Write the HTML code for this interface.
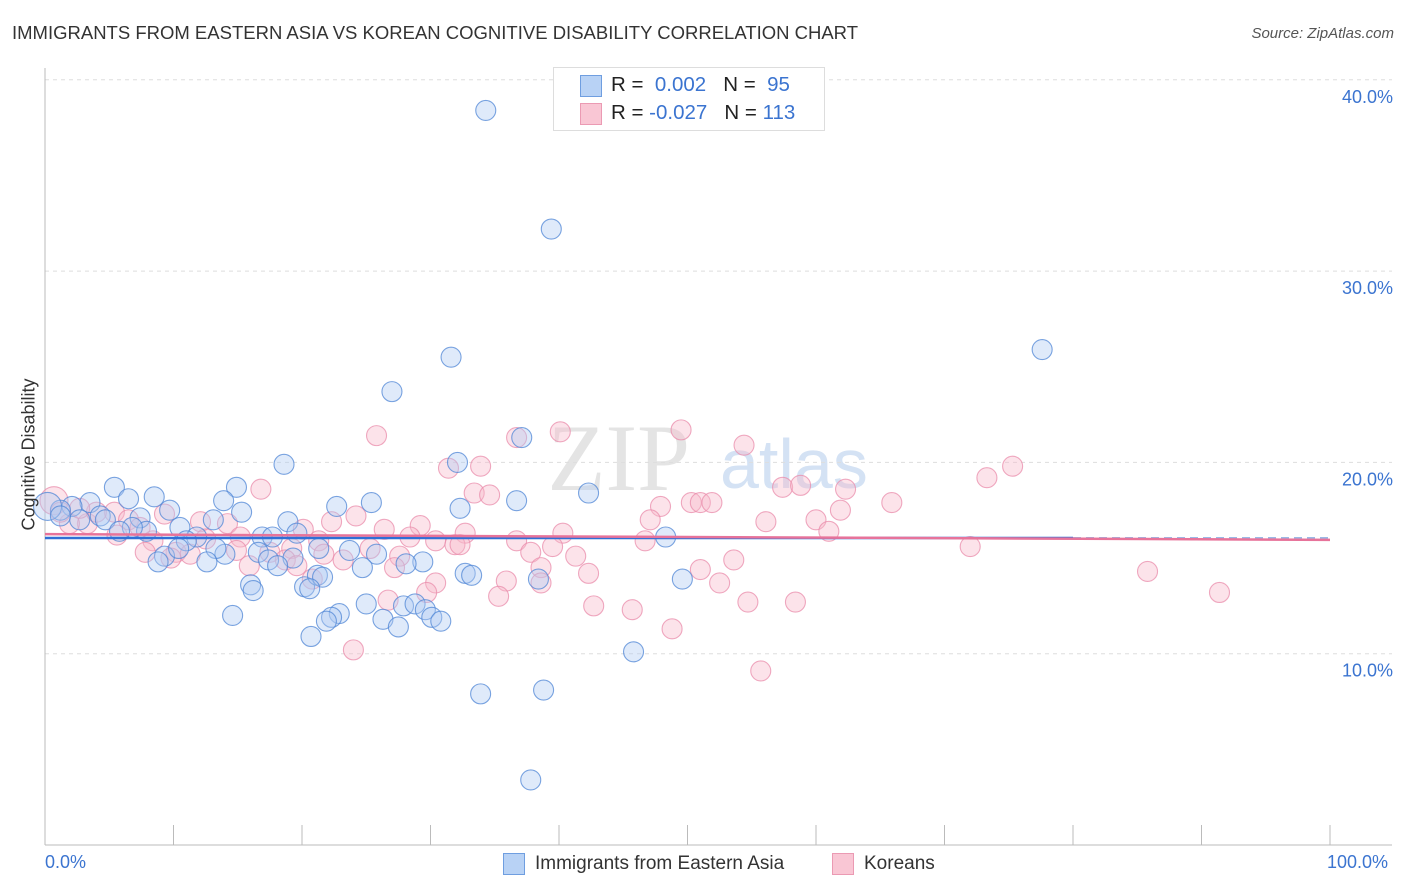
<!DOCTYPE html>
<html><head><meta charset="utf-8"><style>
body{margin:0;background:#fff;font-family:"Liberation Sans",sans-serif;}
#wrap{position:relative;width:1406px;height:892px;overflow:hidden;}
.t{position:absolute;white-space:nowrap;}
</style></head><body>
<div id="wrap">
<div class="t" style="left:12px;top:22px;font-size:18.5px;color:#333;">IMMIGRANTS FROM EASTERN ASIA VS KOREAN COGNITIVE DISABILITY CORRELATION CHART</div>
<div class="t" style="right:12px;top:25px;font-size:15px;color:#555;font-style:italic;">Source: ZipAtlas.com</div>
<svg id="plot" width="1406" height="892" style="position:absolute;left:0;top:0">
<text x="690" y="490" font-size="95" font-family="Liberation Serif" fill="#e4e4e4" text-anchor="end">ZIP</text>
<text x="720" y="488" font-size="70" font-family="Liberation Sans" fill="#d4e2f4">atlas</text>
</svg>
<div style="position:absolute;left:553px;top:67px;width:270px;height:62px;border:1px solid #ddd;background:#fff;"></div>
<div style="position:absolute;left:580px;top:75px;width:20px;height:20px;background:#b8d2f5;border:1px solid #6f9ee0;"></div>
<div style="position:absolute;left:580px;top:103px;width:20px;height:20px;background:#f9c6d4;border:1px solid #eb9ab3;"></div>
<div class="t" style="left:611px;top:73px;font-size:20.5px;color:#222;">R = &nbsp;<span style="color:#3b74d0">0.002</span> &nbsp; N = &nbsp;<span style="color:#3b74d0">95</span></div>
<div class="t" style="left:611px;top:101px;font-size:20.5px;color:#222;">R = <span style="color:#3b74d0">-0.027</span> &nbsp; N = <span style="color:#3b74d0">113</span></div>
<div class="t" style="left:-55px;top:444px;font-size:18px;color:#333;transform:rotate(-90deg);width:168px;text-align:center;">Cognitive Disability</div>
<div class="t" style="left:45px;top:852px;font-size:18px;color:#3b74d0;">0.0%</div>
<div class="t" style="left:1327px;top:852px;font-size:18px;color:#3b74d0;">100.0%</div>
<div style="position:absolute;left:503px;top:853px;width:20px;height:20px;background:#b8d2f5;border:1px solid #6f9ee0;"></div>
<div class="t" style="left:535px;top:853px;font-size:19px;color:#333;">Immigrants from Eastern Asia</div>
<div style="position:absolute;left:832px;top:853px;width:20px;height:20px;background:#f9c6d4;border:1px solid #eb9ab3;"></div>
<div class="t" style="left:864px;top:853px;font-size:19px;color:#333;">Koreans</div>
</div>
<script>
const yTicks=[10,20,30,40];
const yTickLabels=["10.0%","20.0%","30.0%","40.0%"];
const xTicks=[0,10,20,30,40,50,60,70,80,90,100];
const blueX=[34.3,39.4,77.6,31.6,27.0,37.1,32.1,18.6,42.3,36.7,14.9,5.4,8.5,6.5,3.5,13.9,25.4,22.7,32.3,9.7,2.1,1.2,4.3,15.3,7.4,13.1,18.9,2.7,10.5,7.9,6.8,16.9,19.6,17.7,11.8,11.0,48.3,23.7,25.8,21.3,16.6,19.3,17.4,14.0,13.3,9.3,8.8,12.6,18.1,29.4,28.1,10.4,16.0,16.2,20.2,21.2,21.6,20.6,24.7,32.7,33.2,38.4,49.6,25.0,22.9,27.9,28.8,29.6,30.1,30.8,22.3,21.9,26.3,27.5,14.6,20.7,45.8,33.9,38.8,37.8,0.2,1.2,4.7,5.8];
const blueY=[38.4,32.2,25.9,25.5,23.7,21.3,20.0,19.9,18.4,18.0,18.7,18.7,18.2,18.1,17.9,18.0,17.9,17.7,17.6,17.5,17.7,17.5,17.2,17.4,17.1,17.0,16.9,17.0,16.6,16.4,16.6,16.1,16.3,16.1,16.1,15.9,16.1,15.4,15.2,15.5,15.3,15.0,14.9,15.2,15.5,15.1,14.8,14.8,14.6,14.8,14.7,15.5,13.6,13.3,13.5,14.1,14.0,13.4,14.5,14.2,14.1,13.9,13.9,12.6,12.1,12.5,12.6,12.3,11.9,11.7,11.9,11.7,11.8,11.4,12.0,10.9,10.1,7.9,8.1,3.4,17.7,17.2,17.0,16.4];
const pinkX=[40.1,49.5,25.8,54.4,36.7,33.9,31.4,75.3,73.3,16.8,33.4,34.6,57.4,58.8,62.3,50.3,51.0,51.9,65.9,47.9,61.9,24.2,9.3,5.4,0.7,56.1,60.0,47.1,22.3,12.1,14.2,3.3,1.9,6.5,29.2,26.4,20.1,7.4,40.3,32.7,61.0,15.2,12.5,8.4,5.6,21.3,28.4,30.4,36.7,31.9,32.3,46.7,39.5,72.0,25.3,19.2,14.9,7.8,10.2,17.5,11.3,21.7,27.6,41.3,37.8,18.7,23.2,9.8,15.9,19.6,27.2,38.6,53.6,51.0,85.8,42.3,20.8,35.9,30.4,38.6,52.5,29.7,91.4,26.7,35.3,54.7,58.4,42.7,45.7,48.8,24.0,55.7,4.0,1.2,2.7];
const pinkY=[21.6,21.7,21.4,20.9,21.3,19.8,19.7,19.8,19.2,18.6,18.4,18.3,18.7,18.8,18.6,17.9,17.9,17.9,17.9,17.7,17.5,17.2,17.3,17.4,18.0,16.9,17.0,17.0,16.9,16.9,16.8,16.8,16.8,17.0,16.7,16.5,16.5,16.6,16.3,16.3,16.4,16.1,16.0,15.9,16.2,15.9,16.1,15.9,15.9,15.7,15.7,15.9,15.6,15.6,15.5,15.5,15.4,15.3,15.3,15.3,15.2,15.2,15.1,15.1,15.3,14.9,14.9,15.0,14.6,14.6,14.5,14.5,14.9,14.4,14.3,14.2,13.9,13.8,13.7,13.7,13.7,13.2,13.2,12.8,13.0,12.7,12.7,12.5,12.3,11.3,10.2,9.1,17.4,17.4,17.6];
const blueTrend=[16.05,16.05];
const pinkTrend=[16.25,15.95];
const NS="http://www.w3.org/2000/svg";
const svg=document.getElementById('plot');
const X0=45,X1=1330,Y0=845,PY=19.13;
function sx(v){return X0+(X1-X0)*v/100;}
function sy(v){return Y0-v*PY;}
function mk(t,a){const e=document.createElementNS(NS,t);for(const k in a)e.setAttribute(k,a[k]);svg.appendChild(e);return e;}
yTicks.forEach((v,i)=>{
 const g=mk('line',{x1:X0,x2:1392,y1:sy(v),y2:sy(v),stroke:'#ddd','stroke-dasharray':'4,4'});
 
 
 const t=mk('text',{x:1393,y:sy(v)+23,'text-anchor':'end','font-size':18,fill:'#3b74d0','font-family':'Liberation Sans'});
 t.textContent=yTickLabels[i];
 
 
});
const ya=mk('line',{x1:X0,x2:X0,y1:68,y2:Y0,stroke:'#bbb'});


const xa=mk('line',{x1:X0,x2:1392,y1:Y0,y2:Y0,stroke:'#bbb'});


xTicks.forEach(v=>{
 const k=mk('line',{x1:sx(v),x2:sx(v),y1:825,y2:Y0,stroke:'#bbb'});
 
 
});
function pts(xs,ys,fill,stroke,name){
 xs.forEach((x,i)=>{
  const big=x<1;
  const c=mk('circle',{cx:sx(x),cy:sy(ys[i]),r:big?14:10,fill:fill,'fill-opacity':0.4,stroke:stroke,'stroke-width':1.1,'stroke-opacity':0.75});
  
  
 });
}
pts(pinkX,pinkY,'#f7b9cb','#ea8cab','korean-point');
pts(blueX,blueY,'#aecbf2','#4f86d6','eastern-asia-point');
const bl=mk('line',{x1:sx(0),x2:sx(80),y1:sy(blueTrend[0]),y2:sy(blueTrend[0]+(blueTrend[1]-blueTrend[0])*0.8),stroke:'#2f6fd6','stroke-width':2.5});


const bd=mk('line',{x1:sx(80),x2:sx(100),y1:sy(blueTrend[0]+(blueTrend[1]-blueTrend[0])*0.8),y2:sy(blueTrend[1]),stroke:'#9bb9e6','stroke-width':2,'stroke-dasharray':'8,5'});


const pl=mk('line',{x1:sx(0),x2:sx(100),y1:sy(pinkTrend[0]),y2:sy(pinkTrend[1]),stroke:'#e7739a','stroke-width':2.5});


</script>
</body></html>
